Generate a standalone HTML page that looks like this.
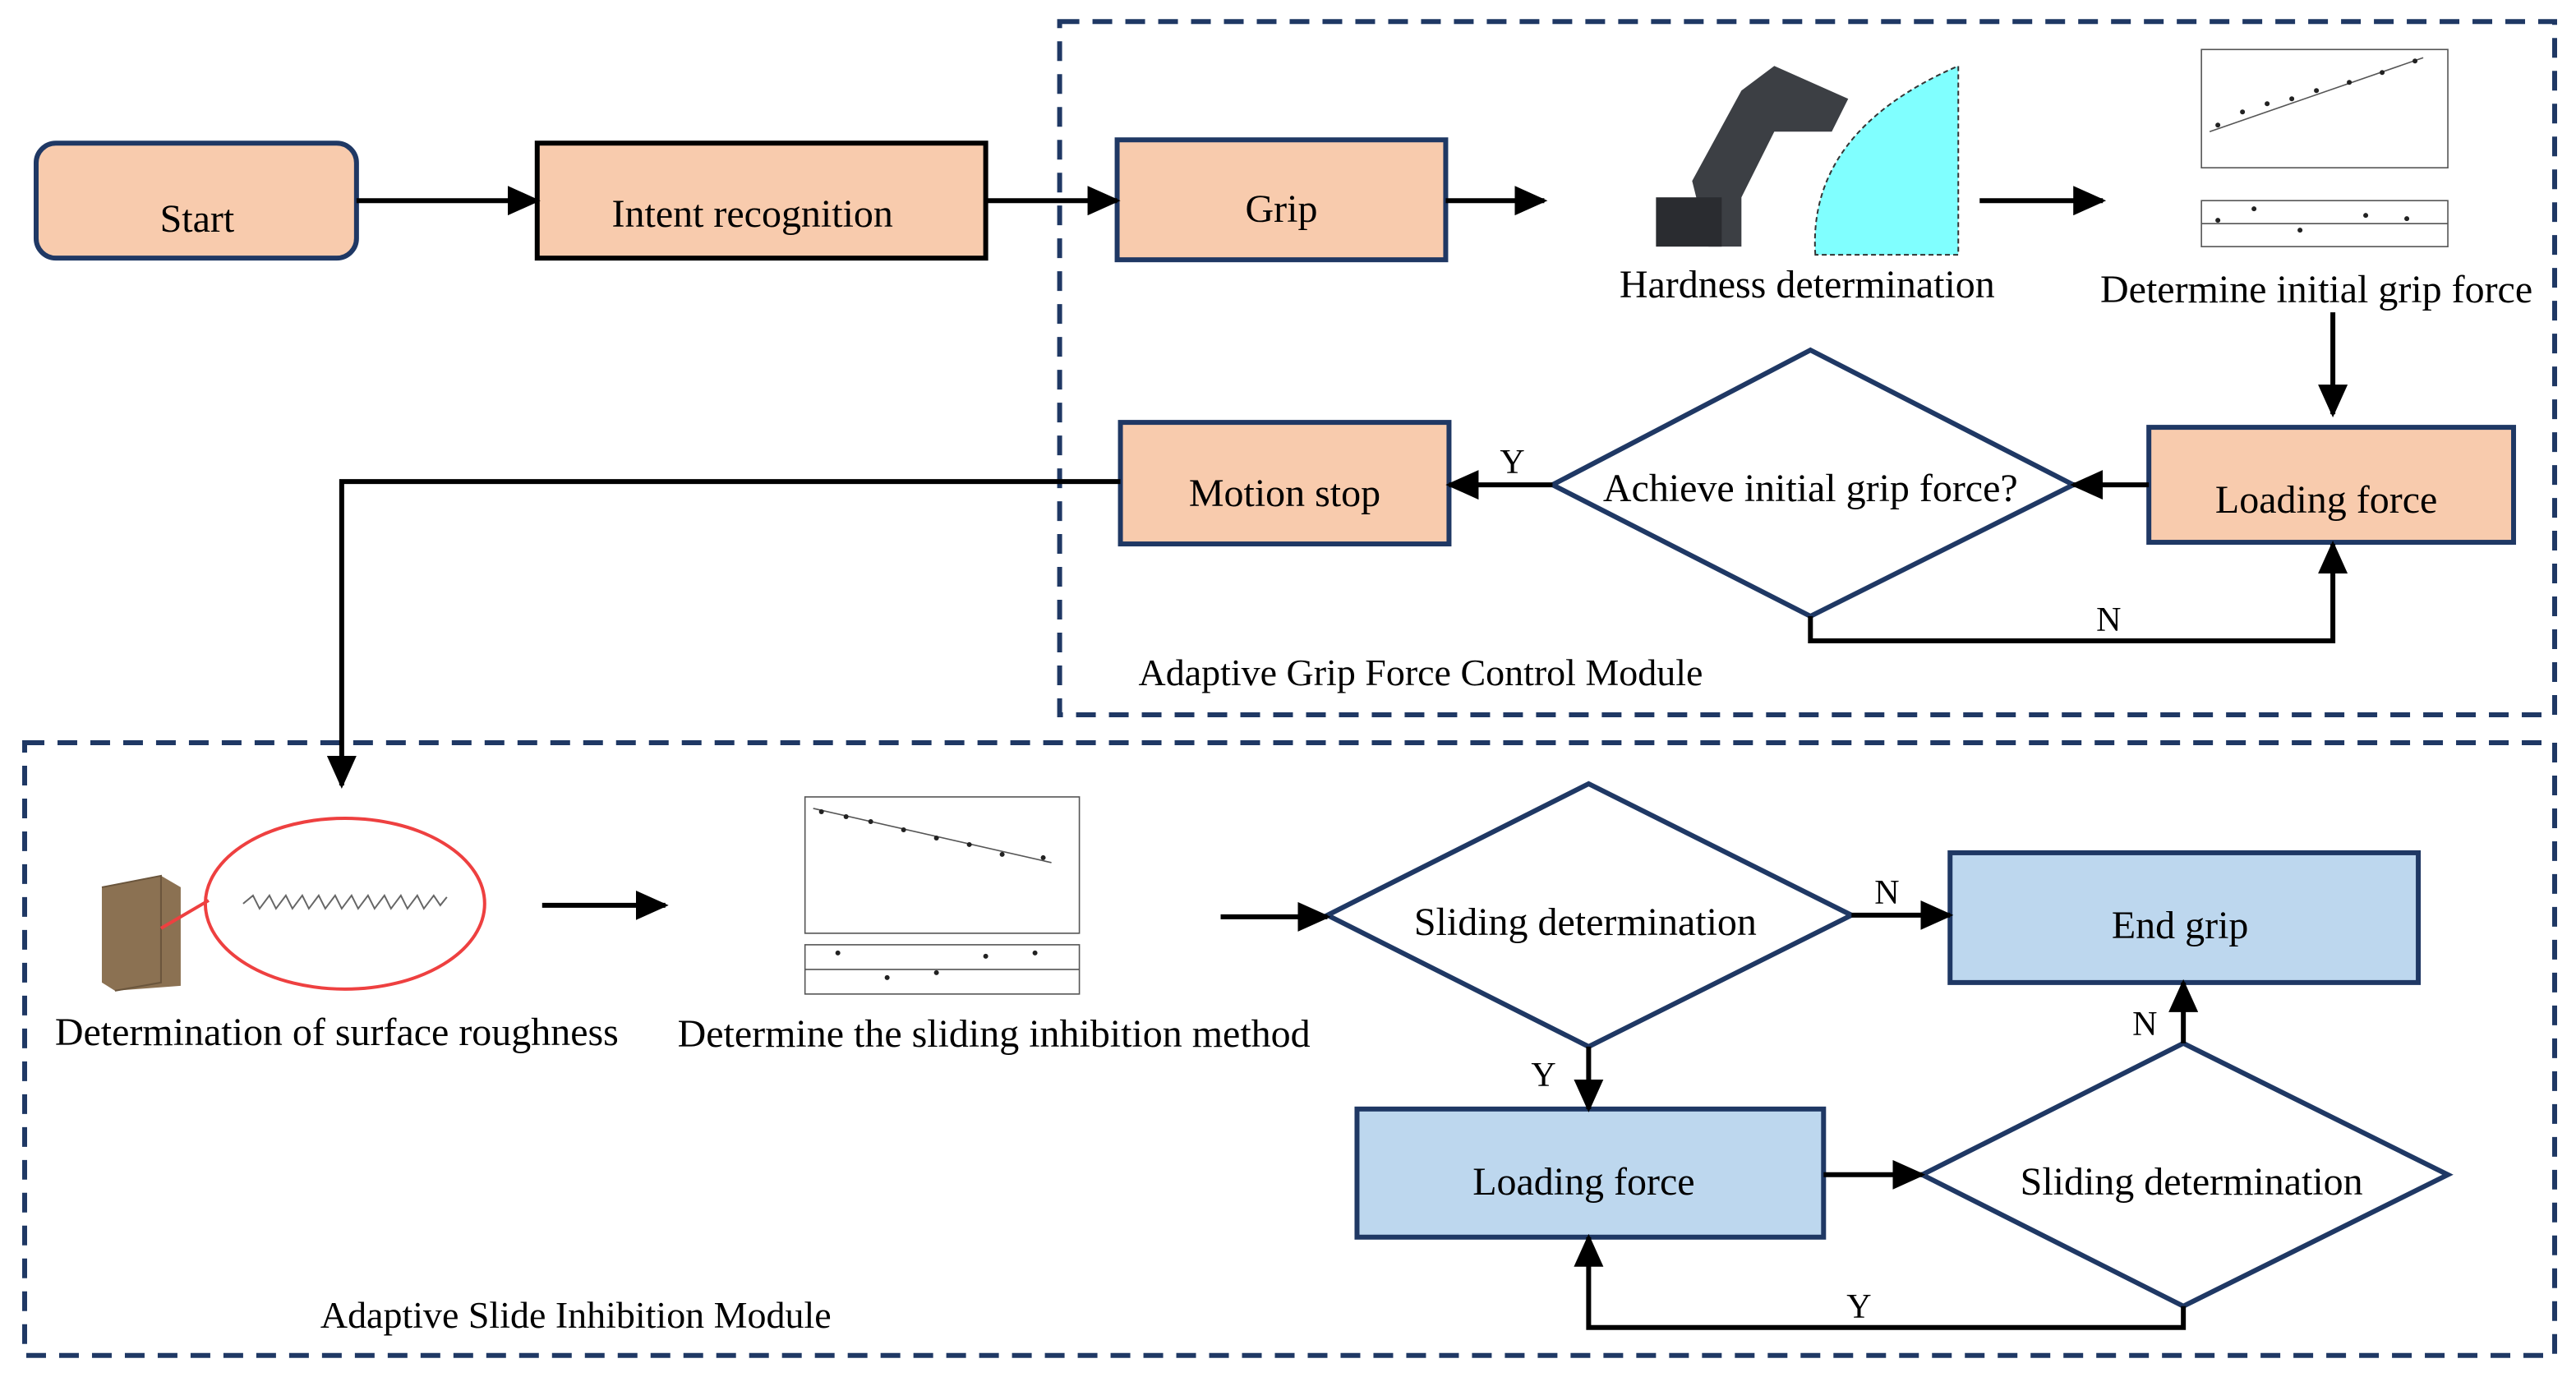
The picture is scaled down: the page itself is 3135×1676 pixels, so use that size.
<!DOCTYPE html>
<html><head><meta charset="utf-8"><style>
html,body{margin:0;padding:0;background:#fff;}
svg{display:block;}
</style></head><body>
<svg width="3135" height="1676" viewBox="0 0 1568 838" xmlns="http://www.w3.org/2000/svg" font-family="'Liberation Serif','Times New Roman','DejaVu Serif',serif">
<defs>
<marker id="b" markerWidth="20" markerHeight="18" refX="18" refY="9" orient="auto" markerUnits="userSpaceOnUse">
<path d="M0,0 L20,9 L0,18 z" fill="#000"/></marker>
</defs>
<g stroke="#1f3864" stroke-width="3" fill="none" stroke-dasharray="12,8">
<rect x="645" y="13" width="910" height="422"/>
<rect x="15" y="452" width="1540" height="373"/>
</g>
<g font-size="24" text-anchor="middle" font-family="'Liberation Serif','Times New Roman',serif">
<rect x="22" y="87" width="195" height="70" rx="12" fill="#f8cbad" stroke="#1f3864" stroke-width="3"/>
<text x="120" y="141">Start</text>
<rect x="327" y="87" width="273" height="70" fill="#f8cbad" stroke="#000" stroke-width="3"/>
<text x="458" y="138">Intent recognition</text>
<rect x="680" y="85" width="200" height="73" fill="#f8cbad" stroke="#1f3864" stroke-width="3"/>
<text x="780" y="135">Grip</text>
<rect x="1308" y="260" width="222" height="70" fill="#f8cbad" stroke="#1f3864" stroke-width="3"/>
<text x="1416" y="312">Loading force</text>
<rect x="682" y="257" width="200" height="74" fill="#f8cbad" stroke="#1f3864" stroke-width="3"/>
<text x="782" y="308">Motion stop</text>
<polygon points="945,295 1102,213 1262,295 1102,375" fill="#fff" stroke="#1f3864" stroke-width="3"/>
<text x="1102" y="305">Achieve initial grip force?</text>
<polygon points="808,557 967,477 1127,557 967,637" fill="#fff" stroke="#1f3864" stroke-width="3"/>
<text x="965" y="569">Sliding determination</text>
<rect x="1187" y="519" width="285" height="79" fill="#bdd7ee" stroke="#1f3864" stroke-width="3"/>
<text x="1327" y="571">End grip</text>
<rect x="826" y="675" width="284" height="78" fill="#bdd7ee" stroke="#1f3864" stroke-width="3"/>
<text x="964" y="727">Loading force</text>
<polygon points="1170,715 1329,635 1490,715 1329,795" fill="#fff" stroke="#1f3864" stroke-width="3"/>
<text x="1334" y="727">Sliding determination</text>
<text x="1100" y="181">Hardness  determination</text>
<text x="1410" y="184">Determine initial grip force</text>
<text x="205" y="636">Determination of surface roughness</text>
<text x="605" y="637">Determine the sliding inhibition method</text>
</g>
<g font-size="23" font-family="'Liberation Serif','Times New Roman',serif">
<text x="693" y="417">Adaptive Grip Force Control Module</text>
<text x="195" y="808">Adaptive Slide Inhibition Module</text>
</g>
<g font-size="21" font-family="'Liberation Serif','Times New Roman',serif">
<text x="913" y="288">Y</text>
<text x="1276" y="384">N</text>
<text x="1141" y="550">N</text>
<text x="932" y="661">Y</text>
<text x="1298" y="630">N</text>
<text x="1124" y="802">Y</text>
</g>
<g stroke="#000" stroke-width="3" fill="none" marker-end="url(#b)">
<line x1="217" y1="122" x2="327" y2="122"/>
<line x1="600" y1="122" x2="680" y2="122"/>
<line x1="880" y1="122" x2="940" y2="122"/>
<line x1="1205" y1="122" x2="1280" y2="122"/>
<line x1="1420" y1="190" x2="1420" y2="252"/>
<line x1="1308" y1="295" x2="1262" y2="295"/>
<line x1="945" y1="295" x2="882" y2="295"/>
<polyline points="682,293 208,293 208,478"/>
<polyline points="1102,375 1102,390 1420,390 1420,331"/>
<line x1="330" y1="551" x2="405" y2="551"/>
<line x1="743" y1="558" x2="808" y2="558"/>
<line x1="1127" y1="557" x2="1187" y2="557"/>
<line x1="967" y1="637" x2="967" y2="675"/>
<line x1="1110" y1="715" x2="1170" y2="715"/>
<line x1="1329" y1="635" x2="1329" y2="598"/>
<polyline points="1329,795 1329,808 967,808 967,753"/>
</g>
<path d="M1105,155 Q1100,80 1192,40 L1192,155 z" fill="#80ffff" stroke="#333" stroke-width="1" stroke-dasharray="3,2"/>
<path d="M1040,150 L1030,110 L1060,55 L1080,40 L1125,60 L1115,80 L1080,80 L1060,120 L1060,150 z" fill="#3c3f44"/>
<rect x="1008" y="120" width="40" height="30" fill="#2a2c30"/>
<g stroke="#555" stroke-width="0.8" fill="none">
<rect x="1340" y="30" width="150" height="72"/>
<line x1="1345" y1="80" x2="1475" y2="35"/>
<rect x="1340" y="122" width="150" height="28"/>
<line x1="1340" y1="136" x2="1490" y2="136"/>
<rect x="490" y="485" width="167" height="83"/>
<line x1="495" y1="492" x2="640" y2="525"/>
<rect x="490" y="575" width="167" height="30"/>
<line x1="490" y1="590" x2="657" y2="590"/>
</g>
<g fill="#222">
<circle cx="1350" cy="76" r="1.5"/><circle cx="1365" cy="68" r="1.5"/><circle cx="1380" cy="63" r="1.5"/><circle cx="1395" cy="60" r="1.5"/><circle cx="1410" cy="55" r="1.5"/><circle cx="1430" cy="50" r="1.5"/><circle cx="1450" cy="44" r="1.5"/><circle cx="1470" cy="37" r="1.5"/>
<circle cx="1350" cy="134" r="1.5"/><circle cx="1372" cy="127" r="1.5"/><circle cx="1400" cy="140" r="1.5"/><circle cx="1440" cy="131" r="1.5"/><circle cx="1465" cy="133" r="1.5"/>
<circle cx="500" cy="494" r="1.5"/><circle cx="515" cy="497" r="1.5"/><circle cx="530" cy="500" r="1.5"/><circle cx="550" cy="505" r="1.5"/><circle cx="570" cy="510" r="1.5"/><circle cx="590" cy="514" r="1.5"/><circle cx="610" cy="520" r="1.5"/><circle cx="635" cy="522" r="1.5"/>
<circle cx="510" cy="580" r="1.5"/><circle cx="540" cy="595" r="1.5"/><circle cx="570" cy="592" r="1.5"/><circle cx="600" cy="582" r="1.5"/><circle cx="630" cy="580" r="1.5"/>
</g>
<path d="M62,540 L98,533 L110,540 L110,600 L70,603 L62,598 z" fill="#8b7152"/>
<path d="M62,540 L98,533 L98,598 L70,603" fill="none" stroke="#6a553c"/>
<ellipse cx="210" cy="550" rx="85" ry="52" fill="none" stroke="#ee4040" stroke-width="2"/>
<line x1="98" y1="565" x2="127" y2="548" stroke="#ee4040" stroke-width="2"/>
<polyline points="148,550 154,545 158,553 164,545 168,553 174,545 178,553 184,545 188,553 194,545 198,553 204,545 208,553 214,545 218,553 224,545 228,553 234,545 238,553 244,545 248,553 254,545 258,553 264,545 268,551 272,546" fill="none" stroke="#666" stroke-width="1"/>
</svg>
</body></html>
